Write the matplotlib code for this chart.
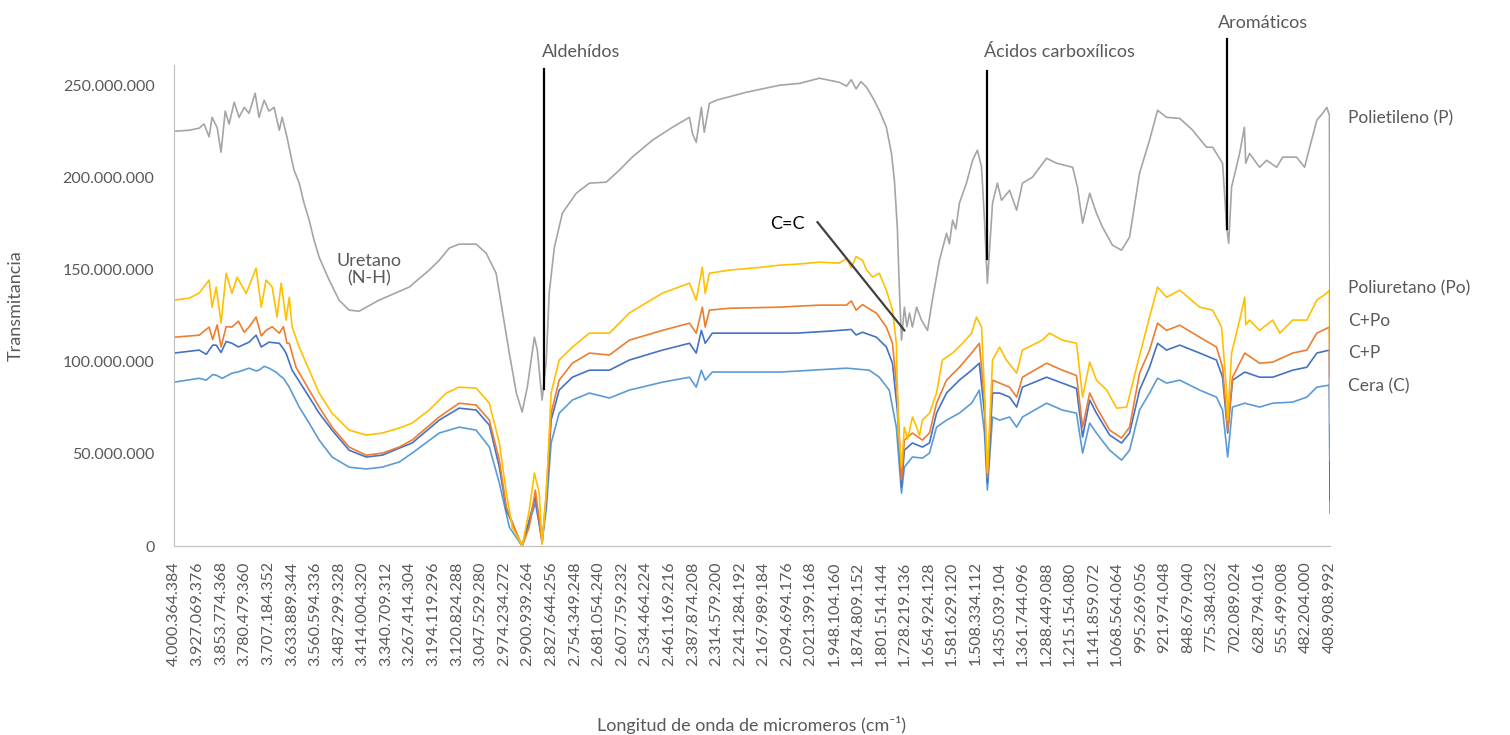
import numpy as np
import matplotlib
matplotlib.use("Agg")
import matplotlib.pyplot as plt
from matplotlib.ticker import FuncFormatter

plt.rcParams['font.family'] = ['Lato', 'DejaVu Sans']

wn_p = [4000, 3953, 3922, 3907, 3891, 3882, 3866, 3854, 3841, 3829, 3813, 3798, 3782, 3767,
        3748, 3736, 3720, 3705, 3689, 3673, 3664, 3649, 3636, 3627, 3611, 3596, 3580, 3565,
        3549, 3518, 3487, 3456, 3425, 3363, 3269, 3207, 3176, 3145, 3114, 3061, 3030, 2999,
        2980, 2958, 2936, 2918, 2902, 2880, 2871, 2856, 2843, 2834, 2818, 2793, 2750, 2709,
        2657, 2616, 2576, 2513, 2451, 2398, 2389, 2377, 2361, 2352, 2336, 2314, 2221, 2118,
        2056, 1994, 1932, 1910, 1895, 1880, 1865, 1848, 1829, 1808, 1786, 1770, 1761, 1752,
        1745, 1739, 1730, 1722, 1714, 1705, 1692, 1677, 1658, 1643, 1621, 1599, 1590, 1580,
        1570, 1559, 1537, 1518, 1503, 1490, 1481, 1472, 1456, 1441, 1428, 1403, 1381, 1363,
        1332, 1288, 1257, 1207, 1192, 1176, 1154, 1133, 1114, 1083, 1055, 1030, 999, 968,
        943, 915, 874, 834, 791, 772, 741, 728, 722, 713, 688, 673, 669, 657, 626, 604,
        573, 554, 511, 486, 470, 448, 430, 417, 408.9, 407]
polietileno = [225, 225.6, 226.7, 229, 222, 232.6, 227, 213.7, 236, 229, 240.8, 232.6, 238, 234.8,
               245.7, 232.6, 241.9, 236, 238, 225.6, 232.6, 221.8, 211, 203.9, 196.9, 186, 176.8, 166,
               156.7, 144.3, 133.4, 128, 127.4, 133.4, 140.5, 149.7, 155, 161.6, 163.8, 163.8, 158.9, 148,
               128, 104.7, 83, 72.7, 86.2, 113.3, 106.3, 79.2, 100.9, 137.2, 162, 180.6, 191.4, 196.9,
               197.4, 203.9, 211, 220.2, 227.2, 232.6, 224, 219, 238, 224.5, 240.2, 241.9, 246.2, 250,
               251, 253.8, 251.6, 249.5, 253, 248, 252, 249, 243.5, 236.4, 227.2, 213, 198.5, 173,
               137, 111.7, 129.6, 119, 126.4, 118.8, 129.6, 122.6, 117, 133.4, 155, 169.7, 164, 176.8,
               172, 186, 196.9, 209.3, 214.8, 205.5, 176.8, 142.6, 186, 196.9, 187.6, 193, 182.2, 196.9,
               200.1, 210.4, 207.7, 205.5, 194.7, 175.2, 191.4, 180.6, 173, 163.2, 160.5, 167.6, 202.3, 220.2,
               236.4, 232.6, 232, 225.6, 216.4, 216.4, 207.7, 173, 164.3, 194.7, 213, 227.2, 207.7, 213, 205.5, 209.3,
               205.5, 211, 211, 205.5, 216.4, 231, 234.8, 238, 233.7, 91.6]

wn_po = [4000, 3953, 3922, 3891, 3882, 3869, 3854, 3838, 3820, 3804, 3776, 3745, 3729, 3714,
         3695, 3680, 3667, 3652, 3642, 3633, 3611, 3580, 3549, 3509, 3456, 3403, 3353, 3300,
         3260, 3207, 3154, 3114, 3061, 3020, 2989, 2967, 2949, 2927, 2918, 2896, 2880, 2865,
         2856, 2843, 2828, 2803, 2762, 2709, 2647, 2585, 2482, 2398, 2377, 2358, 2349, 2336,
         2274, 2171, 2118, 2066, 1994, 1932, 1910, 1895, 1880, 1860, 1848, 1829, 1808, 1786,
         1767, 1755, 1749, 1739, 1730, 1720, 1705, 1692, 1683, 1674, 1652, 1630, 1612, 1580,
         1549, 1521, 1506, 1490, 1481, 1472, 1456, 1434, 1413, 1381, 1363, 1301, 1279, 1239,
         1195, 1176, 1154, 1133, 1101, 1070, 1039, 1008, 968, 943, 915, 874, 812, 772,
         744, 728, 725, 713, 688, 672, 669, 657, 626, 585, 563, 523, 479, 448,
         417, 408.9, 407]
poliuretano = [133.4, 134.5, 137.2, 144.3, 129.6, 140.5, 121, 148, 137, 145.9, 137, 150.8, 129.6, 144.3,
               140.5, 124.2, 142.6, 122.6, 135, 118.8, 107.9, 95.4, 83, 72.1, 62.9, 60.2, 61.3, 64,
               66.7, 73.8, 83, 86.2, 85.7, 77.5, 55.9, 28.7, 10.3, 3.3, 0, 19.5, 39.6, 28.7,
               1, 28.7, 83, 100.9, 107.9, 115.5, 115.5, 126.4, 137.2, 142.6, 133.4, 151.3, 137, 148,
               149.7, 151.3, 152.4, 152.9, 154, 153.5, 156, 151, 157, 155, 150, 145.9, 148, 138.8,
               128, 110, 64.5, 42.8, 64.5, 58, 70, 64.5, 60, 68.3, 72.1, 83, 100.9, 104.7,
               110, 115.5, 124.2, 118.8, 83, 39.6, 100.9, 107.9, 100.9, 93.8, 106.3, 111.7, 115.5, 111.7,
               110, 80.8, 99.8, 90, 84.6, 74.8, 75.4, 97.1, 124.2, 140.5, 135, 138.8, 129.6, 128,
               118.8, 83, 68.3, 104.7, 122.6, 135, 120, 122.6, 117, 122.6, 115.5, 122.6, 122.6, 133.4,
               137.2, 138.8, 66.7]

wn_cpo = [4000, 3922, 3891, 3880, 3866, 3854, 3838, 3820, 3800, 3782, 3767, 3745, 3729, 3714,
          3695, 3673, 3660, 3649, 3642, 3621, 3580, 3549, 3509, 3456, 3403, 3353, 3300, 3260,
          3176, 3114, 3061, 3020, 2989, 2967, 2927, 2918, 2896, 2877, 2865, 2856, 2843, 2828,
          2803, 2762, 2709, 2647, 2585, 2482, 2398, 2377, 2358, 2349, 2336, 2274, 2118, 2066,
          1994, 1910, 1895, 1880, 1860, 1848, 1817, 1786, 1767, 1752, 1739, 1730, 1705, 1674,
          1652, 1630, 1599, 1559, 1521, 1497, 1481, 1472, 1456, 1434, 1403, 1381, 1363, 1288,
          1239, 1195, 1176, 1154, 1133, 1092, 1055, 1030, 999, 968, 943, 915, 874, 812,
          760, 741, 725, 710, 672, 626, 585, 523, 479, 448, 408.9, 407]
c_po = [113.3, 114.4, 118.8, 112, 120, 108, 119, 118.8, 122, 116, 118.8, 124.2, 114, 117,
        119, 115.5, 119, 110, 110, 97, 84.6, 75.4, 64.5, 53.7, 49.3, 50.4, 53.7, 57.5,
        70, 77.5, 76.5, 68.3, 46.6, 21.1, 3.3, 0, 10.3, 30.4, 14.1, 1.6, 28.7, 72.1,
        90, 99.2, 104.7, 103.6, 111.7, 117, 120.9, 115.5, 129.6, 118.8, 128, 129, 129.6, 130.1,
        130.7, 130.7, 133, 128, 131, 129.6, 126.4, 118.8, 110, 83, 35.8, 57.5, 61.3, 57.5,
        61.3, 77.5, 90, 97, 104.7, 110, 79.2, 37.4, 90, 88.4, 86.2, 80.8, 91.6, 99.2,
        95.4, 92.5, 64.5, 83, 75.4, 62.9, 58.6, 64.5, 93.8, 106.3, 120.9, 117, 119.8, 113.3,
        108, 97, 62.9, 91.6, 104.7, 99.2, 99.8, 104.7, 106.3, 115.5, 118.8, 46.6]

wn_cp = [4000, 3922, 3900, 3880, 3869, 3854, 3838, 3820, 3800, 3767, 3745, 3729, 3705, 3673,
         3660, 3652, 3633, 3580, 3549, 3509, 3456, 3403, 3353, 3300, 3260, 3176, 3114, 3061,
         3020, 2989, 2967, 2918, 2877, 2856, 2843, 2828, 2803, 2762, 2709, 2647, 2585, 2482,
         2398, 2377, 2361, 2349, 2327, 2221, 2118, 2066, 1963, 1895, 1880, 1860, 1817, 1786,
         1767, 1752, 1739, 1730, 1705, 1674, 1652, 1630, 1599, 1559, 1521, 1497, 1481, 1472,
         1456, 1434, 1403, 1381, 1363, 1288, 1239, 1195, 1176, 1154, 1133, 1092, 1055, 1030,
         999, 968, 943, 915, 874, 812, 760, 741, 725, 710, 672, 626, 585, 523,
         479, 448, 408.9, 407]
c_p = [104.7, 106.3, 104, 109, 109, 105, 111, 110, 108, 110.6, 114.4, 108, 110.6, 110,
       107, 104.7, 95.4, 80.8, 72.1, 62.9, 52, 48.3, 49.3, 53.1, 55.9, 68.3, 74.8, 73.8,
       65.6, 42.8, 19.5, 0, 26.6, 1.6, 25, 68.3, 84.6, 91.6, 95.4, 95.4, 100.9, 106.3,
       110, 104.7, 117, 110, 115.5, 115.5, 115.5, 115.5, 116.6, 117.5, 114.5, 116, 113.3, 108,
       99.2, 73.8, 32, 52, 55.9, 53.7, 55.9, 72.1, 83, 90, 95.4, 99.2, 72.1, 34.2,
       83, 83, 80.8, 75.4, 86.2, 91.6, 88.4, 85.5, 59.1, 79.2, 72.1, 60.2, 55.9, 61.3,
       84.6, 97, 110, 106.3, 109, 104.7, 100.9, 91.6, 61.3, 90, 94.4, 91.6, 91.6, 95.4,
       97, 104.7, 106.3, 25]

wn_c = [4000, 3922, 3900, 3880, 3869, 3850, 3820, 3800, 3767, 3745, 3736, 3720, 3705, 3680,
        3673, 3660, 3642, 3611, 3580, 3549, 3509, 3456, 3403, 3353, 3300, 3260, 3176, 3114,
        3061, 3020, 2989, 2958, 2918, 2877, 2856, 2843, 2828, 2803, 2762, 2709, 2647, 2585,
        2482, 2398, 2377, 2361, 2349, 2327, 2221, 2118, 2066, 1910, 1839, 1808, 1777, 1755,
        1739, 1730, 1705, 1674, 1652, 1630, 1599, 1559, 1521, 1497, 1481, 1472, 1456, 1434,
        1403, 1381, 1363, 1288, 1239, 1195, 1176, 1154, 1133, 1092, 1055, 1030, 999, 968,
        943, 915, 874, 812, 760, 741, 725, 710, 672, 626, 585, 523, 479, 448,
        408.9, 407]
cera = [88.9, 91, 90, 93, 92.7, 91, 93.8, 94.5, 96.5, 95, 95.4, 97.5, 96.5, 94,
        92.7, 91, 86.2, 75.4, 66.7, 57.5, 48.3, 42.8, 41.8, 42.8, 45.6, 50.4, 61.3, 64.5,
        62.9, 53.7, 34.2, 10.3, 0, 23.3, 3.3, 20, 55.9, 72.1, 79.2, 83, 80.3, 84.6,
        88.9, 91.6, 86.2, 95.4, 90, 94.4, 94.4, 94.4, 94.9, 96.5, 95.4, 91.6, 84.6, 64.5,
        28.7, 42.8, 48.3, 47.7, 50.4, 64.5, 68.3, 72.1, 77.5, 84.6, 61.3, 30.4, 70, 68.3,
        70, 64.5, 70, 77.5, 73.8, 72.1, 50.4, 66.7, 61.3, 52, 46.6, 52, 73.8, 83,
        91.1, 88.4, 90, 84.6, 80.8, 73.8, 48.3, 75.4, 77.5, 75.4, 77.5, 78.1, 80.8, 86.2,
        87.3, 17.9]

x_labels = ["4.000.364.384", "3.927.069.376", "3.853.774.368", "3.780.479.360", "3.707.184.352",
            "3.633.889.344", "3.560.594.336", "3.487.299.328", "3.414.004.320", "3.340.709.312",
            "3.267.414.304", "3.194.119.296", "3.120.824.288", "3.047.529.280", "2.974.234.272",
            "2.900.939.264", "2.827.644.256", "2.754.349.248", "2.681.054.240", "2.607.759.232",
            "2.534.464.224", "2.461.169.216", "2.387.874.208", "2.314.579.200", "2.241.284.192",
            "2.167.989.184", "2.094.694.176", "2.021.399.168", "1.948.104.160", "1.874.809.152",
            "1.801.514.144", "1.728.219.136", "1.654.924.128", "1.581.629.120", "1.508.334.112",
            "1.435.039.104", "1.361.744.096", "1.288.449.088", "1.215.154.080", "1.141.859.072",
            "1.068.564.064", "995.269.056", "921.974.048", "848.679.040", "775.384.032",
            "702.089.024", "628.794.016", "555.499.008", "482.204.000", "408.908.992"]

series = [
    (wn_c, cera, "#5B9BD5"),
    (wn_cp, c_p, "#4472C4"),
    (wn_cpo, c_po, "#ED7D31"),
    (wn_po, poliuretano, "#FFC000"),
    (wn_p, polietileno, "#A5A5A5"),
]
labels = ["Polietileno (P)", "Poliuretano (Po)", "C+Po", "C+P", "Cera (C)"]
label_y = [232, 140, 122, 104.7, 86.8]

txt = "#595959"
fig = plt.figure(figsize=(15.1, 7.35), dpi=100)
ax = fig.add_axes([0.1152, 0.2571, 0.7656, 0.6545])

for x, y, c in series:
    ax.plot(x, np.array(y) * 1e6, color=c, lw=1.2, solid_joinstyle="round")

ax.set_xlim(4000.364, 407.0)
ax.set_ylim(0, 261e6)
ax.set_yticks(np.arange(0, 250e6 + 1, 50e6))
ax.yaxis.set_major_formatter(FuncFormatter(lambda v, p: f"{int(v):,}".replace(",", ".")))
ax.set_xticks([float(s.replace(".", "")) / 1e6 for s in x_labels])
ax.set_xticklabels(x_labels, rotation=90)
ax.tick_params(length=0, labelsize=11.5, colors=txt)
ax.tick_params(axis="y", pad=14)
ax.tick_params(axis="x", pad=11)
for s in ["top", "right"]:
    ax.spines[s].set_visible(False)
for s in ["left", "bottom"]:
    ax.spines[s].set_color("#BFBFBF")

ax.set_ylabel("Transmitancia", fontsize=13, color=txt, labelpad=28)
ax.set_xlabel("Longitud de onda de micromeros (cm⁻¹)", fontsize=13, color=txt, labelpad=36)

# anotaciones
kw = dict(color="black", lw=1.6, clip_on=False)
ax.plot([2850, 2850], [85e6, 259e6], **kw)
ax.text(2856, 268e6, "Aldehídos", fontsize=13, color=txt, va="center", ha="left")
ax.plot([1472, 1472], [156e6, 258e6], **kw)
ax.text(1481, 268e6, "Ácidos carboxílicos", fontsize=13, color=txt, va="center", ha="left")
ax.plot([728, 728], [172e6, 275e6], **kw)
ax.text(756, 284e6, "Aromáticos", fontsize=13, color=txt, va="center", ha="left")
ax.plot([2000, 1730], [175.7e6, 117e6], color="#404040", lw=1.6)
ax.text(2040, 174.6e6, "C=C", fontsize=13, color="black", va="center", ha="right")
ax.text(3394, 150e6, "Uretano\n(N-H)", fontsize=13, color=txt, va="center", ha="center",
        linespacing=1.15)

for lab, ly in zip(labels, label_y):
    ax.text(352, ly * 1e6, lab, fontsize=12.5, color=txt, va="center", ha="left", clip_on=False)

fig.savefig("out.png", dpi=100)
